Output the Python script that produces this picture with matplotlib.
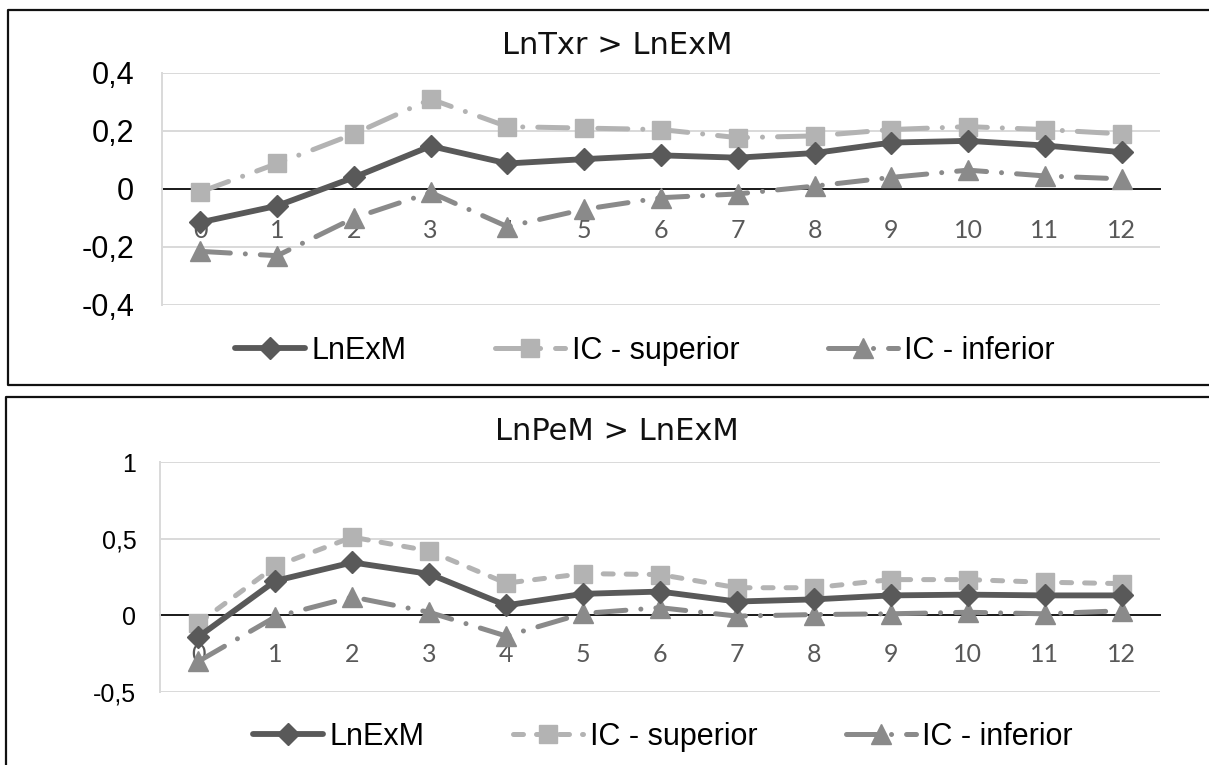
import matplotlib
matplotlib.use("Agg")
import matplotlib.pyplot as plt
from matplotlib.lines import Line2D

plt.rcParams['font.family'] = ['Liberation Sans', 'DejaVu Sans']

#%% Data

periods = list(range(13))
period_labels = [str(p) for p in periods]

# top chart: LnTxr > LnExM
top_title = 'LnTxr > LnExM'
top_lnexm = [-0.115, -0.058, 0.04, 0.148, 0.088, 0.103, 0.116, 0.108, 0.124, 0.16, 0.166, 0.15, 0.127]
top_sup = [-0.01, 0.088, 0.19, 0.31, 0.215, 0.21, 0.205, 0.177, 0.183, 0.205, 0.215, 0.205, 0.19]
top_inf = [-0.215, -0.23, -0.1, -0.012, -0.13, -0.07, -0.03, -0.017, 0.01, 0.04, 0.065, 0.045, 0.035]
top_yticks = [-0.4, -0.2, 0, 0.2, 0.4]
top_ylabels = ['-0,4', '-0,2', '0', '0,2', '0,4']

# bottom chart: LnPeM > LnExM
bot_title = 'LnPeM > LnExM'
bot_lnexm = [-0.14, 0.225, 0.345, 0.27, 0.065, 0.14, 0.155, 0.09, 0.104, 0.13, 0.135, 0.13, 0.13]
bot_sup = [-0.05, 0.32, 0.51, 0.42, 0.21, 0.272, 0.266, 0.18, 0.18, 0.233, 0.233, 0.216, 0.207]
bot_inf = [-0.3, -0.01, 0.12, 0.02, -0.135, 0.012, 0.05, -0.005, 0.005, 0.01, 0.02, 0.01, 0.03]
bot_yticks = [-0.5, 0, 0.5, 1]
bot_ylabels = ['-0,5', '0', '0,5', '1']

series_names = ['LnExM', 'IC - superior', 'IC - inferior']

#%% Styles

W, H = 1209, 765
dark = '#595959'
light = '#b3b3b3'
mid = '#8a8a8a'
grid_col = '#d9d9d9'
lgdashdot = (0, (6, 3, 0.01, 3))
shortdash = (0, (2, 2.6))


def draw_chart(ax, title, lnexm, sup, inf, yticks, ylabels, ylim, sup_style,
               inf_style, ylab_size, ylab_pad, xlab_pad, title_y, leg_xy):
    ax.plot(periods, lnexm, color=dark, lw=4.2, marker='D', ms=11.5,
            mec=dark, zorder=5, label=series_names[0], solid_capstyle='round')
    ax.plot(periods, sup, color=light, lw=3.6, ls=sup_style, dash_capstyle='round',
            marker='s', ms=13.5, mec=light, zorder=4, label=series_names[1])
    ax.plot(periods, inf, color=mid, lw=3.6, ls=inf_style, dash_capstyle='round',
            marker='^', ms=14, mec=mid, zorder=3, label=series_names[2])

    ax.set_xlim(-0.5, 12.5)
    ax.set_ylim(*ylim)
    ax.set_yticks(yticks)
    ax.set_yticklabels(ylabels)
    ax.yaxis.grid(True, color=grid_col, lw=1.4, zorder=0)
    ax.set_axisbelow(True)

    # category axis crosses at zero
    ax.spines['bottom'].set_position(('data', 0))
    ax.spines['bottom'].set_color('#1a1a1a')
    ax.spines['bottom'].set_linewidth(1.4)
    ax.spines['bottom'].set_zorder(2)
    ax.spines['left'].set_color(grid_col)
    ax.spines['left'].set_linewidth(1.4)
    ax.spines['top'].set_visible(False)
    ax.spines['right'].set_visible(False)

    ax.set_xticks(periods)
    ax.set_xticklabels(period_labels)
    ax.tick_params(axis='x', length=0, pad=xlab_pad, labelsize=18, labelcolor=dark)
    for lab in ax.get_xticklabels():
        lab.set_fontfamily('Lato')
    ax.tick_params(axis='y', length=0, pad=ylab_pad, labelsize=ylab_size, labelcolor='black')

    fig.text(617 / W, title_y, title, ha='center', va='center', fontsize=22,
             family='DejaVu Sans', color='#111111')
    handles, labels = ax.get_legend_handles_labels()
    fig.legend(handles, labels, loc='center', bbox_to_anchor=leg_xy, ncol=3,
               frameon=False, fontsize=22, handlelength=2.3, handletextpad=0.2,
               columnspacing=2.9, numpoints=1)


fig = plt.figure(figsize=(W / 100, H / 100), dpi=100)

ax1 = fig.add_axes([162 / W, 1 - 305 / H, (1160 - 162) / W, (305 - 73) / H])
draw_chart(ax1, top_title, top_lnexm, top_sup, top_inf, top_yticks, top_ylabels,
           (-0.4, 0.4), lgdashdot, lgdashdot, 22, 20, 21.5,
           1 - 45 / H, (645 / W, 1 - 351 / H))

ax2 = fig.add_axes([160 / W, 1 - 692 / H, (1160 - 160) / W, (692 - 462) / H])
draw_chart(ax2, bot_title, bot_lnexm, bot_sup, bot_inf, bot_yticks, bot_ylabels,
           (-0.5, 1), shortdash, lgdashdot, 18, 17, 20,
           1 - 432 / H, (663 / W, 1 - 737 / H))

# chart frames (cut off at the right / bottom like the screenshot)
frame_kw = dict(transform=fig.transFigure, color='#111111', lw=1.6)
fig.add_artist(Line2D([1.01, 8 / W, 8 / W, 1.01],
                      [1 - 10 / H, 1 - 10 / H, 1 - 385 / H, 1 - 385 / H], **frame_kw))
fig.add_artist(Line2D([1.01, 6 / W, 6 / W],
                      [1 - 397 / H, 1 - 397 / H, -0.01], **frame_kw))

fig.savefig('out.png', dpi=100)
